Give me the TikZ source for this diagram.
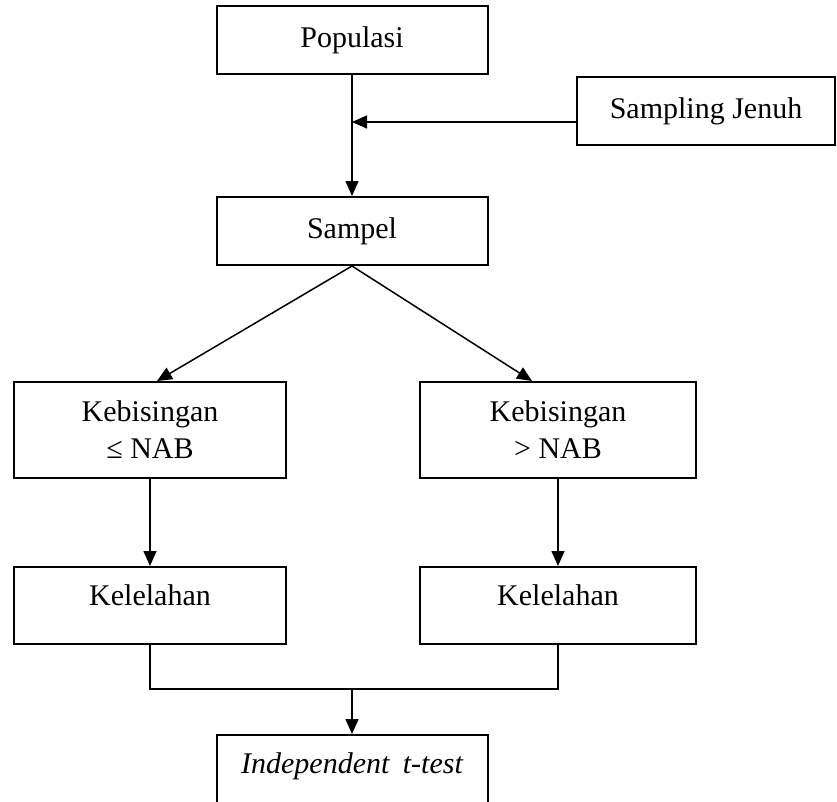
\documentclass[tikz,border=0pt]{standalone}
\usepackage{fontspec}
\setmainfont{Liberation Serif}
\usetikzlibrary{positioning, calc, arrows.meta}

\begin{document}
\begin{tikzpicture}[x=1pt,y=-1pt,
        kotak/.style={draw, line width=2pt, inner sep=0pt, align=center, font=\fontsize{30}{37}\selectfont},
        panah/.style={-{Triangle[length=15pt,width=13pt]}, line width=1.5pt},
        garis/.style={line width=1.5pt}]
        \clip (0,0) rectangle (837,801);
        \useasboundingbox (0,0) rectangle (837,801);
        % kotak
            \node[kotak, minimum width=271pt, minimum height=68pt] (populasi) at (352,40) {Populasi};
            \node[kotak, minimum width=258pt, minimum height=68pt] (jenuh) at (706,111) {Sampling Jenuh};
            \node[kotak, minimum width=271pt, minimum height=68pt] (sampel) at (352,231) {Sampel};
            \node[kotak, minimum width=272pt, minimum height=96pt] (bisingA) at (150,430) {Kebisingan\\≤ NAB};
            \node[kotak, minimum width=276pt, minimum height=96pt] (bisingB) at (558,430) {Kebisingan\\> NAB};
            \node[kotak, minimum width=272pt, text height=38pt, text depth=39pt] (lelahA) at (150,605.5) {Kelelahan};
            \node[kotak, minimum width=276pt, text height=38pt, text depth=39pt] (lelahB) at (558,605.5) {Kelelahan};
            \node[kotak, minimum width=271pt, text height=38pt, text depth=82pt, anchor=north] (uji) at (352,734) {\itshape Independent\hspace{0.45em}t-test};
        % panah
            \coordinate (temu) at (populasi.south |- jenuh.west);
            \coordinate (temu) at ($(temu)+(0,11)$);
            \draw[panah] (populasi.south) -- (sampel.north);
            \draw[panah] (jenuh.west |- temu) -- (temu);
            \draw[panah] (sampel.south) -- ($(bisingA.north)+(7,0)$);
            \draw[panah] (sampel.south) -- ($(bisingB.north)+(-26,0)$);
            \draw[panah] (bisingA.south) -- (lelahA.north);
            \draw[panah] (bisingB.south) -- (lelahB.north);
            \coordinate (gabung) at (uji.north |- 0,689);
            \draw[garis] (lelahA.south) |- (gabung) -| (lelahB.south);
            \draw[panah] (gabung) -- (uji.north);
        \end{tikzpicture}
\end{document}
